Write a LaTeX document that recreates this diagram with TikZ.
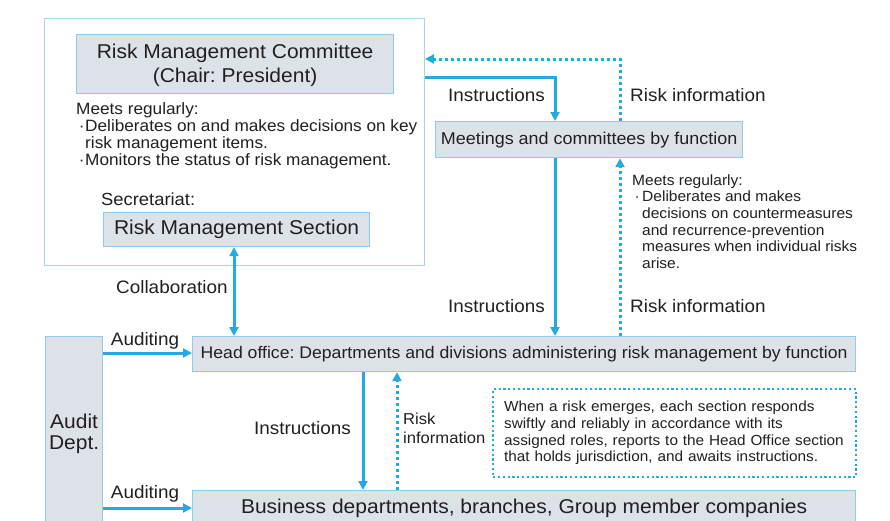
\documentclass[tikz,border=0pt]{standalone}
\usepackage{fontspec}
\setmainfont{Liberation Sans}[FakeStretch=1.05]
\usetikzlibrary{arrows.meta}
\definecolor{flowblue}{HTML}{25A9E0}
\definecolor{edgeblue}{HTML}{8CCBEE}
\definecolor{panelblue}{HTML}{A4D6F2}
\definecolor{boxfill}{HTML}{DCE2E8}
\definecolor{ink}{HTML}{231F20}
\frenchspacing
\begin{document}
\begin{tikzpicture}[x=1pt,y=-1pt,
  every node/.style={text=ink, inner sep=0pt},
  unitbox/.style={draw=edgeblue, line width=1.2pt, fill=boxfill, anchor=north west},
  tip/.style={-{Triangle[width=9pt,length=9pt]}},
  flow/.style={draw=flowblue, line width=3pt, tip},
  report/.style={draw=flowblue, line width=3pt, dash pattern=on 3pt off 3pt, tip},
  bigtext/.style={font=\fontsize{20}{24.5}\selectfont},
  midtext/.style={font=\fontsize{17.1}{20}\selectfont},
  labeltext/.style={font=\fontsize{18}{19}\selectfont, anchor=base west},
  notetext/.style={font=\fontsize{16.4}{17}\selectfont, anchor=base west},
  sidetext/.style={font=\fontsize{14.8}{16.7}\selectfont, anchor=base west},
  memotext/.style={font=\fontsize{14.6}{16.7}\selectfont},
]
\useasboundingbox (0,0) rectangle (890,520);
\clip (0,0) rectangle (890,520);
\fill[white] (0,0) rectangle (890,520);

% committee panel with its secretariat
\node[unitbox, fill=white, draw=panelblue, line width=1pt,
      minimum width=380pt, minimum height=247pt] (panel) at (44,18) {};
\node[unitbox, bigtext, align=center, minimum width=317pt, minimum height=59pt,
      text depth=2pt] (rmc) at (76,34) {Risk Management Committee\\(Chair: President)};
\node[notetext] (rmcnote) at (76,114) {\begin{tabular}[t]{@{}l@{}}
  Meets regularly:\\
  \makebox[9pt][l]{\,·}Deliberates on and makes decisions on key\\
  \hspace*{9pt}risk management items.\\
  \makebox[9pt][l]{\,·}Monitors the status of risk management.
\end{tabular}};
\node[labeltext, font=\fontsize{17.5}{19}\selectfont] (sec) at (101,205) {Secretariat:};
\node[unitbox, bigtext, minimum width=266pt, minimum height=34pt]
  (rms) at (103,212) {Risk Management Section};

% functional meetings
\node[unitbox, midtext, minimum width=307pt, minimum height=36pt]
  (mtg) at (435,121) {Meetings and committees by function};
\node[sidetext] (mtgnote) at (632,185) {\begin{tabular}[t]{@{}l@{}}
  Meets regularly:\\
  \makebox[10pt][l]{\,·}Deliberates and makes\\
  \hspace*{10pt}decisions on countermeasures\\
  \hspace*{10pt}and recurrence-prevention\\
  \hspace*{10pt}measures when individual risks\\
  \hspace*{10pt}arise.
\end{tabular}};

% head office, business units and audit
\node[unitbox, midtext, font=\fontsize{16.8}{20}\selectfont,
      minimum width=663pt, minimum height=35pt]
  (ho) at (192,336) {Head office: Departments and divisions administering risk management by function};
\node[unitbox, bigtext, minimum width=663pt, minimum height=36pt]
  (biz) at (192,490) {Business departments, branches, Group member companies};
\node[unitbox, font=\fontsize{20}{21}\selectfont, align=center,
      minimum width=57pt, minimum height=194pt] (audit) at (45,336) {Audit\\Dept.};
\node[draw=flowblue, line width=2.2pt, dash pattern=on 2.2pt off 2.6pt,
      anchor=north west, memotext, align=left, text width=341pt,
      inner xsep=11pt, minimum height=88pt] (memo) at (492,388)
  {When a risk emerges, each section responds\\
   swiftly and reliably in accordance with its\\
   assigned roles, reports to the Head Office section\\
   that holds jurisdiction, and awaits instructions.};

% connector labels
\node[labeltext] (lins1) at (448,101) {Instructions};
\node[labeltext] (lrisk1) at (630,101) {Risk information};
\node[labeltext] (lins2) at (448,312.7) {Instructions};
\node[labeltext] (lrisk2) at (630,312.7) {Risk information};
\node[labeltext] (lcol) at (116,293.5) {Collaboration};
\node[labeltext] (laud1) at (110.7,345) {Auditing};
\node[labeltext] (laud2) at (110.7,498) {Auditing};
\node[labeltext] (lins3) at (254,434) {Instructions};
\node[labeltext, font=\fontsize{15.8}{19}\selectfont] (lrisk3) at (403,424)
  {\begin{tabular}[t]{@{}l@{}}Risk\\information\end{tabular}};

% connectors
\coordinate (cmdx) at (555,0);
\coordinate (rptx) at (620,0);
\coordinate (colx) at (234,0);
\coordinate (subcmdx) at (363,0);
\coordinate (subrptx) at (397,0);
\coordinate (cmdy) at (0,77);
\coordinate (rpty) at (0,59);
\coordinate (aud1y) at (0,353);
\coordinate (aud2y) at (0,508);

\draw[flow] (panel.east |- cmdy) -| (mtg.north -| cmdx);
\draw[report] (mtg.north -| rptx) |- (panel.east |- rpty);
\draw[flow] (mtg.south -| cmdx) -- (ho.north -| cmdx);
\draw[report] (ho.north -| rptx) -- (mtg.south -| rptx);
\draw[flow, {Triangle[width=9pt,length=9pt]}-{Triangle[width=9pt,length=9pt]}]
  (rms.south -| colx) -- (ho.north -| colx);
\draw[flow] (audit.east |- aud1y) -- (ho.west |- aud1y);
\draw[flow] (audit.east |- aud2y) -- (biz.west |- aud2y);
\draw[flow] (ho.south -| subcmdx) -- (biz.north -| subcmdx);
\draw[report] (biz.north -| subrptx) -- (ho.south -| subrptx);
\end{tikzpicture}
\end{document}
